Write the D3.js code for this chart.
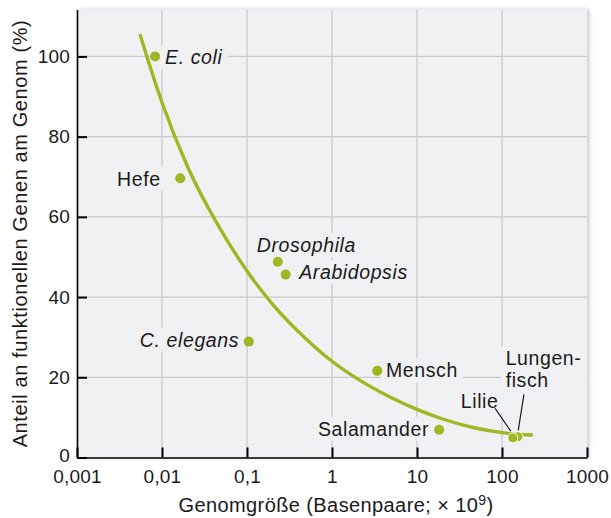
<!DOCTYPE html>
<html>
<head>
<meta charset="utf-8">
<script src="https://cdn.jsdelivr.net/npm/d3@7"></script>
<style>
  body { margin: 0; background: #fff; }
  svg { font-family: "Liberation Sans", Arial, sans-serif; }
</style>
</head>
<body>
<div id="chart"></div>
<script>
// Genome size (Gbp) vs. share of functional genes (%)
const organisms = ['E. coli', 'Hefe', 'Drosophila', 'Arabidopsis', 'C. elegans', 'Mensch', 'Salamander', 'Lungenfisch', 'Lilie'];
const genomeSize = [0.0083, 0.0164, 0.23, 0.285, 0.105, 3.41, 18.2, 154, 134];
const functionalShare = [100, 69.6, 48.8, 45.6, 28.9, 21.6, 6.9, 5.2, 4.9];
const italicNames = ['E. coli', 'Drosophila', 'Arabidopsis', 'C. elegans'];

// fitted trend curve
const curveX = [0.0055, 0.01, 0.02, 0.05, 0.1, 0.2, 0.5, 1, 2, 5, 10, 20, 50, 100, 150, 230];
const curveY = [105.5, 88.5, 72.5, 56.5, 46.5, 38.2, 29.5, 24.0, 19.6, 14.9, 12.0, 9.6, 7.3, 6.2, 5.8, 5.6];

const xTicks = [0.001, 0.01, 0.1, 1, 10, 100, 1000];
const xTickLabels = ['0,001', '0,01', '0,1', '1', '10', '100', '1000'];
const yTicks = [0, 20, 40, 60, 80, 100];

const width = 611;
const height = 518;
const margin = { top: 9.5, right: 24, bottom: 60.5, left: 77 };
const green = '#9cb823';
const ink = '#1a1a1a';

const svg = d3.select('#chart')
    .append('svg')
    .attr('width', width)
    .attr('height', height);

const defs = svg.append('defs');
const shadow = defs.append('filter').attr('id', 'shadow')
    .attr('x', '-5%').attr('y', '-5%').attr('width', '115%').attr('height', '115%');
shadow.append('feDropShadow')
    .attr('dx', 2).attr('dy', 0).attr('stdDeviation', 2)
    .attr('flood-color', '#000').attr('flood-opacity', 0.22);

const x = d3.scaleLog()
    .domain([0.001, 1000])
    .range([margin.left, width - margin.right]);

const y = d3.scaleLinear()
    .domain([0, 111.7])
    .range([height - margin.bottom, margin.top]);

// plot background
svg.append('rect')
    .attr('x', margin.left)
    .attr('y', margin.top)
    .attr('width', x(1000) - margin.left)
    .attr('height', y(0) - margin.top)
    .attr('fill', '#f0f1f3')
    .attr('filter', 'url(#shadow)');

// grid
const grid = svg.append('g').attr('stroke', '#c9cacd').attr('stroke-width', 1.3);
grid.selectAll('.vg')
    .data(xTicks.slice(1, -1))
    .join('line')
    .attr('x1', d => x(d)).attr('x2', d => x(d))
    .attr('y1', margin.top).attr('y2', y(0));
grid.selectAll('.hg')
    .data(yTicks.slice(1))
    .join('line')
    .attr('x1', margin.left).attr('x2', x(1000))
    .attr('y1', d => y(d)).attr('y2', d => y(d));

// label placement relative to each dot
const labelPos = {
    'E. coli': { dx: 10, dy: 7.6, anchor: 'start' },
    'Hefe': { dx: -19.6, dy: 7.4, anchor: 'end' },
    'Drosophila': { dx: -21, dy: -9.7, anchor: 'start' },
    'Arabidopsis': { dx: 13.6, dy: 4.6, anchor: 'start' },
    'C. elegans': { dx: -9.7, dy: 5, anchor: 'end' },
    'Mensch': { dx: 8.7, dy: 6.6, anchor: 'start' },
    'Salamander': { dx: -10, dy: 6, anchor: 'end' },
    'Lilie': { dx: -52, dy: -29.4, anchor: 'start', leader: [-17.7, -29.4, -2, -6.7] },
    'Lungenfisch': { dx: -12.3, dy: -71.3, anchor: 'start', lines: ['Lungen-', 'fisch'], leader: [6, -42.3, 0.3, -6.3] }
};

const points = organisms.map((name, i) => ({ name, size: genomeSize[i], share: functionalShare[i] }));

const labels = svg.append('g')
    .attr('font-size', 19.5)
    .attr('letter-spacing', 0.6)
    .attr('fill', ink);

const labelGroups = labels.selectAll('g')
    .data(points)
    .join('g');

labelGroups.each(function (d) {
    const p = labelPos[d.name];
    const g = d3.select(this);
    const bg = g.append('rect').attr('fill', '#f0f1f3');
    const t = g.append('text')
        .attr('x', x(d.size) + p.dx)
        .attr('y', y(d.share) + p.dy)
        .attr('text-anchor', p.anchor)
        .attr('font-style', italicNames.includes(d.name) ? 'italic' : null);
    const lines = p.lines || [d.name];
    lines.forEach((ln, k) => {
        t.append('tspan')
            .attr('x', x(d.size) + p.dx)
            .attr('dy', k === 0 ? 0 : 21.7)
            .text(ln);
    });
    const b = t.node().getBBox();
    bg.attr('x', b.x - 5).attr('y', b.y - 1)
        .attr('width', b.width + 10).attr('height', b.height + 2);
});

// trend curve
const curveData = curveX.map((v, i) => [v, curveY[i]]);
svg.append('path')
    .datum(curveData)
    .attr('fill', 'none')
    .attr('stroke', green)
    .attr('stroke-width', 3.4)
    .attr('d', d3.line()
        .x(d => x(d[0]))
        .y(d => y(d[1]))
        .curve(d3.curveMonotoneX));

// leader lines
labels.selectAll('line.leader')
    .data(points.filter(d => labelPos[d.name].leader))
    .join('line')
    .attr('stroke', ink)
    .attr('stroke-width', 1.2)
    .attr('x1', d => x(d.size) + labelPos[d.name].leader[0])
    .attr('y1', d => y(d.share) + labelPos[d.name].leader[1])
    .attr('x2', d => x(d.size) + labelPos[d.name].leader[2])
    .attr('y2', d => y(d.share) + labelPos[d.name].leader[3]);

// dots
svg.append('g')
    .selectAll('circle')
    .data(points)
    .join('circle')
    .attr('cx', d => x(d.size))
    .attr('cy', d => y(d.share))
    .attr('r', 5)
    .attr('fill', green)
    .attr('stroke', d => d.name === 'Lilie' || d.name === 'Lungenfisch' ? '#fff' : 'none')
    .attr('stroke-width', 1);

// axes
const styleTicks = g => g.selectAll('.tick text')
    .attr('font-size', 19)
    .attr('letter-spacing', 0.2)
    .attr('fill', ink)
    .attr('font-family', null);

const xAxis = g => g
    .attr('transform', `translate(0, ${y(0)})`)
    .call(d3.axisBottom(x).tickValues(xTicks).tickFormat((d, i) => xTickLabels[i]).tickSizeInner(-10).tickSizeOuter(0).tickPadding(12.5))
    .call(g => g.select('.domain').attr('stroke-width', 1.6))
    .call(g => g.selectAll('.tick line').attr('stroke-width', 2))
    .call(styleTicks);

const yAxis = g => g
    .attr('transform', `translate(${margin.left}, 0)`)
    .call(d3.axisLeft(y).tickValues(yTicks).tickSizeInner(-10).tickSizeOuter(0).tickPadding(7))
    .call(g => g.select('.domain').attr('stroke-width', 1.6))
    .call(g => g.selectAll('.tick line').attr('stroke-width', 2))
    .call(styleTicks)
    .call(g => g.selectAll('.tick text').filter(d => d === 0).attr('dy', '0.2em'));

svg.append('g').call(xAxis);
svg.append('g').call(yAxis);

// axis titles
const xTitle = svg.append('text')
    .attr('x', (margin.left + x(1000)) / 2 + 4)
    .attr('y', 512)
    .attr('text-anchor', 'middle')
    .attr('font-size', 20)
    .attr('letter-spacing', 0.4)
    .attr('fill', ink);
xTitle.append('tspan').text('Genomgröße (Basenpaare; × 10');
xTitle.append('tspan').attr('dy', -7).attr('font-size', 14).text('9');
xTitle.append('tspan').attr('dy', 7).text(')');

svg.append('text')
    .attr('transform', `translate(27, ${(margin.top + y(0)) / 2}) rotate(-90)`)
    .attr('text-anchor', 'middle')
    .attr('font-size', 20)
    .attr('letter-spacing', 0.6)
    .attr('fill', ink)
    .text('Anteil an funktionellen Genen am Genom (%)');
</script>
</body>
</html>
